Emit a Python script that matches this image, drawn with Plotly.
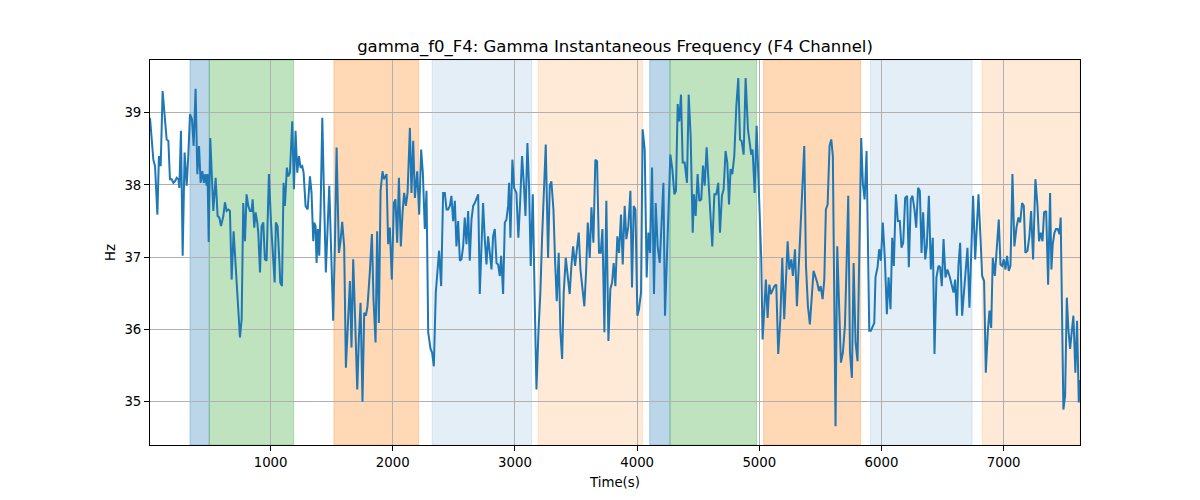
import plotly.graph_objects as go

time_s = [
    12.7, 40, 54, 73, 86, 100, 116, 135, 149, 163, 176, 190, 204, 217, 231, 245, 253, 266, 280, 296,
    313, 326, 340, 356, 370, 386, 400, 414, 427, 441, 454, 465, 476, 484, 493, 506, 520, 531, 550, 566,
    580, 594, 613, 626, 640, 654, 667, 681, 697, 711, 727,
    749, 763, 776, 790, 803, 817, 831, 844, 853, 866, 877, 891, 899, 913, 926, 940, 953, 967, 986, 1003,
    1016, 1033, 1043, 1057, 1071, 1079, 1093, 1106, 1117, 1133, 1144, 1158, 1177, 1191, 1204, 1218, 1232,
    1245, 1259, 1270, 1286, 1303, 1322, 1335, 1349, 1357, 1368, 1376, 1387, 1398, 1409, 1423, 1436, 1452,
    1466, 1480,
    1499, 1512, 1526, 1540, 1559, 1572, 1586, 1602, 1616, 1635, 1649, 1662, 1676, 1690, 1709, 1722, 1736,
    1752, 1766, 1780, 1793, 1812, 1829, 1842, 1859, 1872, 1886, 1900, 1916, 1927, 1938, 1949, 1962, 1976,
    1992, 2009, 2022, 2036, 2050, 2066, 2080, 2093, 2107, 2121, 2140, 2153, 2167, 2181, 2200, 2216, 2232,
    2246,
    2262, 2276, 2290, 2309, 2322, 2336, 2352, 2369, 2379, 2396, 2412, 2426, 2440, 2453, 2467, 2480, 2494,
    2508, 2521, 2535, 2549, 2562, 2576, 2589, 2603, 2617, 2630, 2644, 2658, 2671, 2685, 2699, 2712, 2726,
    2739, 2753, 2767, 2780, 2794, 2808, 2821, 2835, 2849, 2862, 2876, 2887, 2903, 2917, 2930, 2944, 2952,
    2963, 2979,
    2993, 3012, 3028, 3042, 3058, 3072, 3086, 3102, 3116, 3129, 3146, 3162, 3176, 3192, 3208, 3222, 3236,
    3252, 3271, 3285, 3298, 3315, 3328, 3342, 3358, 3372, 3386, 3399, 3416, 3429, 3448, 3462, 3476, 3492,
    3508, 3522, 3536, 3552, 3568, 3582, 3596, 3612, 3626, 3642, 3658, 3672, 3688, 3702, 3716, 3732,
    3748, 3765, 3781, 3795, 3808, 3822, 3838, 3852, 3868, 3882, 3898, 3912, 3928, 3945, 3958, 3972, 3986,
    4002, 4015, 4032, 4045, 4062, 4078, 4092, 4106, 4122, 4138, 4152, 4168, 4185, 4198, 4215, 4228, 4245,
    4261, 4272, 4288, 4305, 4318, 4332, 4345, 4359, 4373, 4389, 4408, 4422, 4438, 4455,
    4465, 4479, 4495, 4509, 4525, 4539, 4553, 4569, 4585, 4602, 4615, 4632, 4648, 4664, 4678, 4694, 4708,
    4724, 4738, 4752, 4765, 4779, 4795, 4812, 4828, 4842, 4855, 4872, 4888, 4907, 4921, 4934, 4945, 4962,
    4978, 4992, 5005, 5016, 5027, 5043, 5054, 5068, 5082, 5095, 5109, 5123, 5139, 5155, 5172, 5188,
    5204, 5218, 5232, 5245, 5262, 5275, 5292, 5308, 5324, 5343, 5357, 5368, 5382, 5398, 5414, 5431, 5444,
    5461, 5474, 5488, 5502, 5518, 5532, 5545, 5559, 5575, 5589, 5602, 5613, 5624, 5638, 5652, 5668, 5684,
    5701, 5714, 5728, 5742, 5758, 5772, 5788, 5804, 5818, 5834, 5848, 5862, 5878, 5889, 5900, 5913,
    5930, 5941, 5951, 5968, 5981, 5995, 6011, 6028, 6044, 6058, 6074, 6088, 6101, 6118, 6134, 6150, 6164,
    6178, 6194, 6210, 6224, 6240, 6254, 6270, 6284, 6300, 6314, 6328, 6341, 6358, 6371, 6388, 6404, 6420,
    6434, 6450, 6467, 6480, 6494, 6508, 6524, 6540, 6557, 6573, 6590, 6603, 6617, 6630, 6644, 6660,
    6677, 6704, 6720, 6734, 6750, 6767, 6794, 6810, 6824, 6840, 6854, 6870, 6884, 6898, 6911, 6928, 6944,
    6960, 6974, 6988, 7001, 7015, 7028, 7042, 7056, 7072, 7088, 7105, 7121, 7135, 7151, 7165, 7178, 7195,
    7211, 7225, 7241, 7260, 7277, 7290, 7304, 7318, 7331, 7348, 7364, 7380,
    7391, 7402, 7416, 7429, 7443, 7457, 7467, 7478, 7489, 7503, 7517, 7530, 7544, 7557, 7571, 7587, 7601,
    7615, 7625,
]

gamma_hz = [
    38.93, 38.35, 38.26, 37.59, 38.40, 38.26, 39.30, 38.95, 38.63, 38.61, 38.08, 38.08, 38.03, 38.05, 38.10,
    38.08, 37.96, 38.75, 37.02, 38.45, 37.99, 38.40, 38.98, 38.91, 38.54, 39.33, 38.15, 38.54, 38.03, 38.19,
    38.03, 38.15, 37.99, 38.15, 37.21, 38.65, 38.08, 37.64, 38.10, 37.57, 37.55, 37.43, 37.57, 37.76, 37.64,
    37.66, 37.64, 36.69, 37.36, 36.97, 36.51,
    35.89, 36.14, 37.75, 37.22, 37.87, 37.71, 37.64, 37.64, 37.80, 37.41, 37.62, 37.48, 37.34, 36.79, 37.43,
    37.48, 36.97, 36.95, 38.15, 37.48, 37.15, 36.65, 37.48, 37.43, 36.97, 36.65, 36.60, 38.03, 37.71, 38.24,
    38.12, 38.17, 38.88, 37.94, 38.75, 38.17, 38.40, 38.24, 38.26, 38.17, 37.71, 37.66, 38.12, 37.89, 37.22,
    37.48, 37.43, 36.92, 37.39, 37.02, 37.66, 38.93, 37.92, 36.79, 37.39, 37.99,
    36.88, 36.12, 37.15, 38.52, 37.06, 37.22, 37.49, 37.15, 35.47, 36.23, 36.67, 35.75, 36.97, 36.23, 35.17,
    35.86, 36.37, 35.00, 36.23, 36.19, 36.32, 36.79, 37.32, 36.42, 35.82, 37.36, 36.09, 37.92, 38.19, 38.08,
    38.12, 38.15, 37.18, 37.41, 36.69, 37.75, 37.80, 37.20, 38.10, 37.15, 37.62, 37.89, 37.71, 37.89, 38.79,
    37.89, 38.61, 37.82, 38.19, 37.59, 38.49, 38.17,
    37.39, 37.92, 35.96, 35.73, 35.68, 35.49, 36.51, 36.88, 37.09, 36.60, 37.89, 37.89, 37.66, 37.66, 37.71,
    37.85, 37.50, 37.78, 37.15, 37.50, 36.95, 36.97, 37.15, 37.55, 37.18, 37.64, 36.95, 37.52, 37.71, 37.75,
    37.80, 37.87, 36.49, 37.15, 37.75, 37.25, 36.90, 37.29, 37.09, 36.83, 37.29, 37.39, 36.92, 36.90, 36.74,
    37.02, 36.49, 37.48, 37.52, 37.71, 38.03, 37.27, 38.35,
    37.96, 37.89, 37.27, 37.75, 38.40, 38.03, 37.57, 38.58, 37.94, 36.88, 37.87, 36.37, 35.17, 35.96, 36.51,
    37.27, 37.80, 38.56, 36.99, 37.99, 38.05, 37.66, 36.97, 36.39, 37.06, 35.96, 35.59, 36.51, 36.99, 36.79,
    36.49, 36.88, 37.15, 36.88, 37.11, 37.34, 36.83, 36.60, 36.32, 36.79, 37.48, 36.99, 37.69, 37.20, 38.35,
    38.33, 37.06, 37.06, 37.39, 35.96,
    37.78, 35.84, 36.56, 36.65, 36.92, 36.60, 37.29, 37.06, 37.59, 36.90, 37.71, 37.25, 37.43, 37.92, 36.58,
    37.71, 37.66, 36.19, 36.28, 36.51, 38.77, 38.49, 36.72, 37.34, 37.06, 38.24, 36.49, 37.75, 37.15, 36.92,
    37.34, 38.03, 36.19, 36.97, 37.80, 38.42, 38.22, 37.87, 37.92, 39.12, 38.88, 39.25, 38.31, 38.31, 38.03,
    39.25, 38.68, 37.34,
    37.87, 37.57, 38.15, 37.78, 37.80, 38.27, 37.99, 38.52, 38.03, 37.48, 37.15, 37.87, 37.87, 38.03, 37.34,
    37.85, 37.94, 38.47, 38.31, 37.73, 38.22, 38.15, 38.40, 39.09, 39.48, 38.63, 38.61, 38.42, 39.48, 38.77,
    38.61, 38.42, 38.49, 37.89, 38.82, 38.22, 37.52, 36.97, 35.86, 36.42, 36.69, 36.16, 36.62, 36.49, 36.56,
    36.60, 36.62, 35.66, 36.14, 36.99,
    36.14, 36.74, 37.22, 36.83, 36.97, 36.74, 37.11, 36.32, 36.88, 37.57, 38.12, 38.54, 36.88, 36.32, 36.07,
    36.56, 36.81, 36.72, 36.65, 36.53, 36.60, 36.42, 36.69, 37.66, 37.73, 38.54, 38.63, 38.40, 36.23, 34.66,
    37.15, 36.51, 35.54, 35.68, 36.05, 36.88, 37.85, 35.68, 35.33, 36.92, 35.82, 35.56, 37.06, 38.65, 38.01,
    37.80, 38.47, 37.48, 35.98, 35.98,
    36.05, 36.09, 36.72, 36.86, 37.11, 36.95, 37.48, 36.97, 36.21, 36.72, 36.28, 37.27, 36.88, 37.87, 37.50,
    37.50, 37.13, 37.20, 37.82, 37.85, 36.86, 37.80, 37.85, 37.66, 37.41, 37.96, 37.92, 37.06, 37.62, 36.97,
    37.15, 37.85, 36.83, 37.27, 35.66, 36.72, 36.88, 36.86, 36.60, 37.25, 36.72, 36.83, 36.74, 36.62, 36.51,
    36.69, 36.19, 36.88, 37.20, 36.19,
    36.56, 37.13, 36.30, 36.97, 37.85, 36.97, 37.87, 37.29, 36.74, 36.67, 35.40, 35.96, 36.26, 36.02, 36.99,
    36.74, 37.15, 37.52, 36.90, 36.88, 36.97, 36.83, 37.02, 36.81, 36.88, 38.15, 37.15, 37.41, 37.55, 37.48,
    37.75, 37.71, 37.06, 37.09, 37.29, 37.64, 36.97, 38.08, 37.71, 37.22, 37.34, 37.22, 37.62, 37.64, 36.62,
    37.89,
    36.83, 37.18, 37.34, 37.39, 37.39, 37.32, 37.55, 36.23, 34.89, 35.08, 36.44, 36.00, 35.73, 35.96, 36.19,
    35.40, 36.12, 34.99, 35.30,
]

band_start = [340, 498, 1518, 2322, 3189, 4103, 4269, 5035, 5910, 6824]
band_end = [498, 1188, 2211, 3137, 4043, 4269, 4978, 5829, 6742, 7625]
band_color = [
    "rgba(31,119,180,0.3)", "rgba(44,160,44,0.3)", "rgba(255,127,14,0.3)",
    "rgba(31,119,180,0.12)", "rgba(255,127,14,0.16)",
    "rgba(31,119,180,0.3)", "rgba(44,160,44,0.3)", "rgba(255,127,14,0.3)",
    "rgba(31,119,180,0.12)", "rgba(255,127,14,0.16)",
]

x_ticks = [1000, 2000, 3000, 4000, 5000, 6000, 7000]
y_ticks = [35, 36, 37, 38, 39]

fig = go.Figure()
for s, e, c in zip(band_start, band_end, band_color):
    fig.add_vrect(x0=s, x1=e, fillcolor=c, line=dict(color=c, width=1), layer="below")

fig.add_trace(go.Scatter(x=time_s, y=gamma_hz, mode="lines",
                         line=dict(color="#1f77b4", width=2), showlegend=False))

font = "DejaVu Sans, Arial, sans-serif"
axis_common = dict(showgrid=True, gridcolor="#b0b0b0", gridwidth=0.8,
                   showline=True, linecolor="black", linewidth=1, mirror=True,
                   ticks="outside", ticklen=5, tickcolor="black", tickwidth=1,
                   zeroline=False, tickfont=dict(family=font, size=13.3, color="black"))

fig.update_layout(
    width=1200, height=500,
    margin=dict(l=142, r=128, t=52, b=63),
    paper_bgcolor="white", plot_bgcolor="white",
    title=dict(text="gamma_f0_F4: Gamma Instantaneous Frequency (F4 Channel)",
               x=607 / 1200, xanchor="center", y=1 - 38 / 500, yanchor="middle",
               font=dict(family=font, size=16.5, color="black")),
    xaxis=dict(range=[12.7, 7625], tickvals=x_ticks,
               title=dict(text="Time(s)", standoff=8, font=dict(family=font, size=13.3, color="black")),
               **axis_common),
    yaxis=dict(range=[34.40, 39.73], tickvals=y_ticks,
               title=dict(text="Hz", standoff=5, font=dict(family=font, size=13.3, color="black")),
               **axis_common),
)

fig.write_html("out.html")
